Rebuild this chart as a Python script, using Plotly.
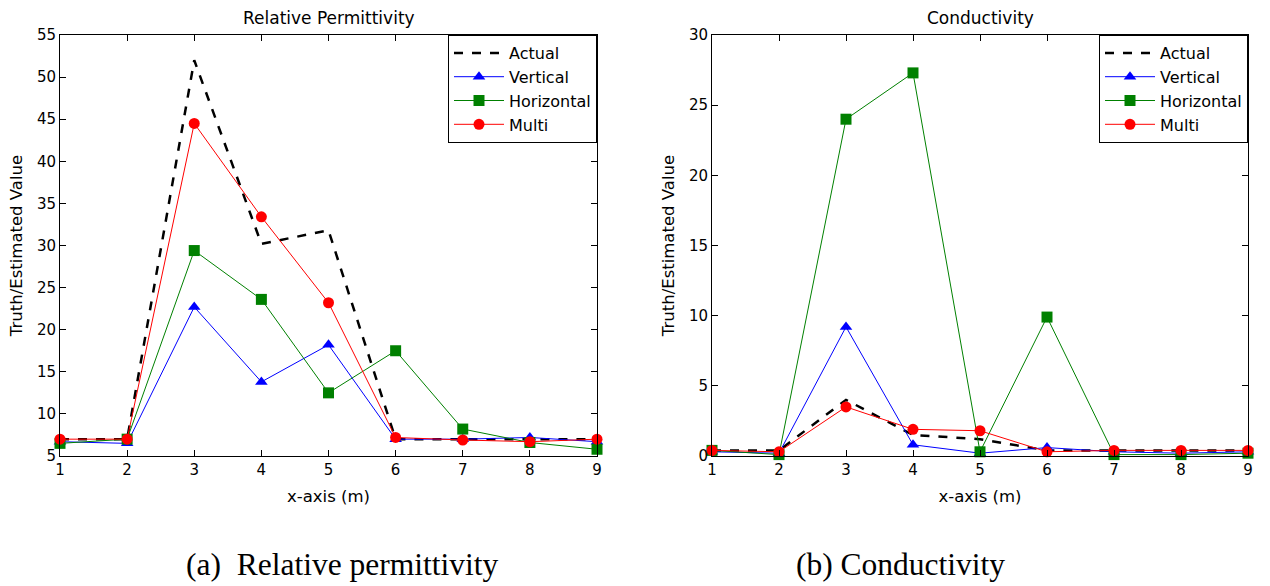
import plotly.graph_objects as go

x_vals = [1, 2, 3, 4, 5, 6, 7, 8, 9]

perm_actual = [7, 7, 52, 30.2, 31.8, 7, 7, 7, 7]
perm_vertical = [6.7, 6.5, 22.7, 13.8, 18.2, 7.0, 7.0, 7.2, 6.7]
perm_horizontal = [6.5, 7.0, 29.4, 23.6, 12.5, 17.5, 8.2, 6.6, 5.8]
perm_multi = [7.0, 7.0, 44.5, 33.4, 23.2, 7.2, 6.9, 6.7, 7.0]

cond_actual = [0.4, 0.4, 4.0, 1.5, 1.2, 0.4, 0.4, 0.4, 0.4]
cond_vertical = [0.3, 0.2, 9.2, 0.8, 0.2, 0.6, 0.3, 0.2, 0.3]
cond_horizontal = [0.4, 0.1, 24.0, 27.3, 0.3, 9.9, 0.1, 0.1, 0.2]
cond_multi = [0.4, 0.3, 3.5, 1.9, 1.8, 0.3, 0.4, 0.4, 0.4]

series_names = ["Actual", "Vertical", "Horizontal", "Multi"]
colors = ["black", "#0000ff", "#008000", "#ff0000"]
symbols = [None, "triangle-up", "square", "circle"]

fig = go.Figure()

def add_series(data, xa, ya, leg):
    for name, vals, col, sym in zip(series_names, data, colors, symbols):
        if sym is None:
            fig.add_trace(go.Scatter(x=x_vals, y=vals, name=name, mode="lines",
                                     line=dict(color=col, width=2.5, dash="dash"),
                                     cliponaxis=False,
                                     xaxis=xa, yaxis=ya, legend=leg))
        else:
            fig.add_trace(go.Scatter(x=x_vals, y=vals, name=name, mode="lines+markers",
                                     line=dict(color=col, width=1),
                                     marker=dict(symbol=sym, size=11, color=col),
                                     cliponaxis=False,
                                     xaxis=xa, yaxis=ya, legend=leg))

add_series([perm_actual, perm_vertical, perm_horizontal, perm_multi], "x", "y", "legend")
add_series([cond_actual, cond_vertical, cond_horizontal, cond_multi], "x2", "y2", "legend2")

tickfont = dict(family="DejaVu Sans", size=15, color="black")
titlefont = dict(family="DejaVu Sans", size=16.5, color="black")
ydom = [1 - 456 / 586, 1 - 35 / 586]
axis_common = dict(showline=True, linecolor="black", linewidth=1, mirror="ticks",
                   ticks="inside", ticklen=6, tickcolor="black", showgrid=False,
                   zeroline=False, tickfont=tickfont, automargin=False)

legend_common = dict(xanchor="right", y=ydom[1], yanchor="top",
                     bordercolor="black", borderwidth=1, bgcolor="white",
                     font=dict(family="DejaVu Sans", size=16, color="black"),
                     tracegroupgap=0, itemwidth=50)

def label(text, xpix, ypix, family, size):
    return dict(text=text, x=xpix / 1270, y=1 - ypix / 586,
                xref="paper", yref="paper", showarrow=False,
                xanchor="center", yanchor="middle",
                font=dict(family=family, size=size, color="black"))

fig.update_layout(
    template="none",
    width=1270, height=586,
    margin=dict(l=0, r=0, t=0, b=0, pad=0),
    paper_bgcolor="white", plot_bgcolor="white",
    xaxis=dict(domain=[60 / 1270, 597 / 1270], range=[1, 9], dtick=1,
               title=dict(text="x-axis (m)", font=titlefont, standoff=12),
               anchor="y", **axis_common),
    yaxis=dict(domain=ydom, range=[5, 55], dtick=5,
               title=dict(text="Truth/Estimated Value", font=titlefont, standoff=10),
               anchor="x", **axis_common),
    xaxis2=dict(domain=[712 / 1270, 1248 / 1270], range=[1, 9], dtick=1,
                title=dict(text="x-axis (m)", font=titlefont, standoff=12),
                anchor="y2", **axis_common),
    yaxis2=dict(domain=ydom, range=[0, 30], dtick=5,
                title=dict(text="Truth/Estimated Value", font=titlefont, standoff=10),
                anchor="x2", **axis_common),
    legend=dict(x=597 / 1270, **legend_common),
    legend2=dict(x=1248 / 1270, **legend_common),
    showlegend=True,
    annotations=[
        label("Relative Permittivity", (60 + 597) / 2, 18, "DejaVu Sans", 17),
        label("Conductivity", (712 + 1248) / 2, 18, "DejaVu Sans", 17),
        label("(a)  Relative permittivity", 343, 564, "Liberation Serif", 31.5),
        label("(b) Conductivity", 900, 564, "Liberation Serif", 31.5),
    ],
)

fig.write_html("out.html")
